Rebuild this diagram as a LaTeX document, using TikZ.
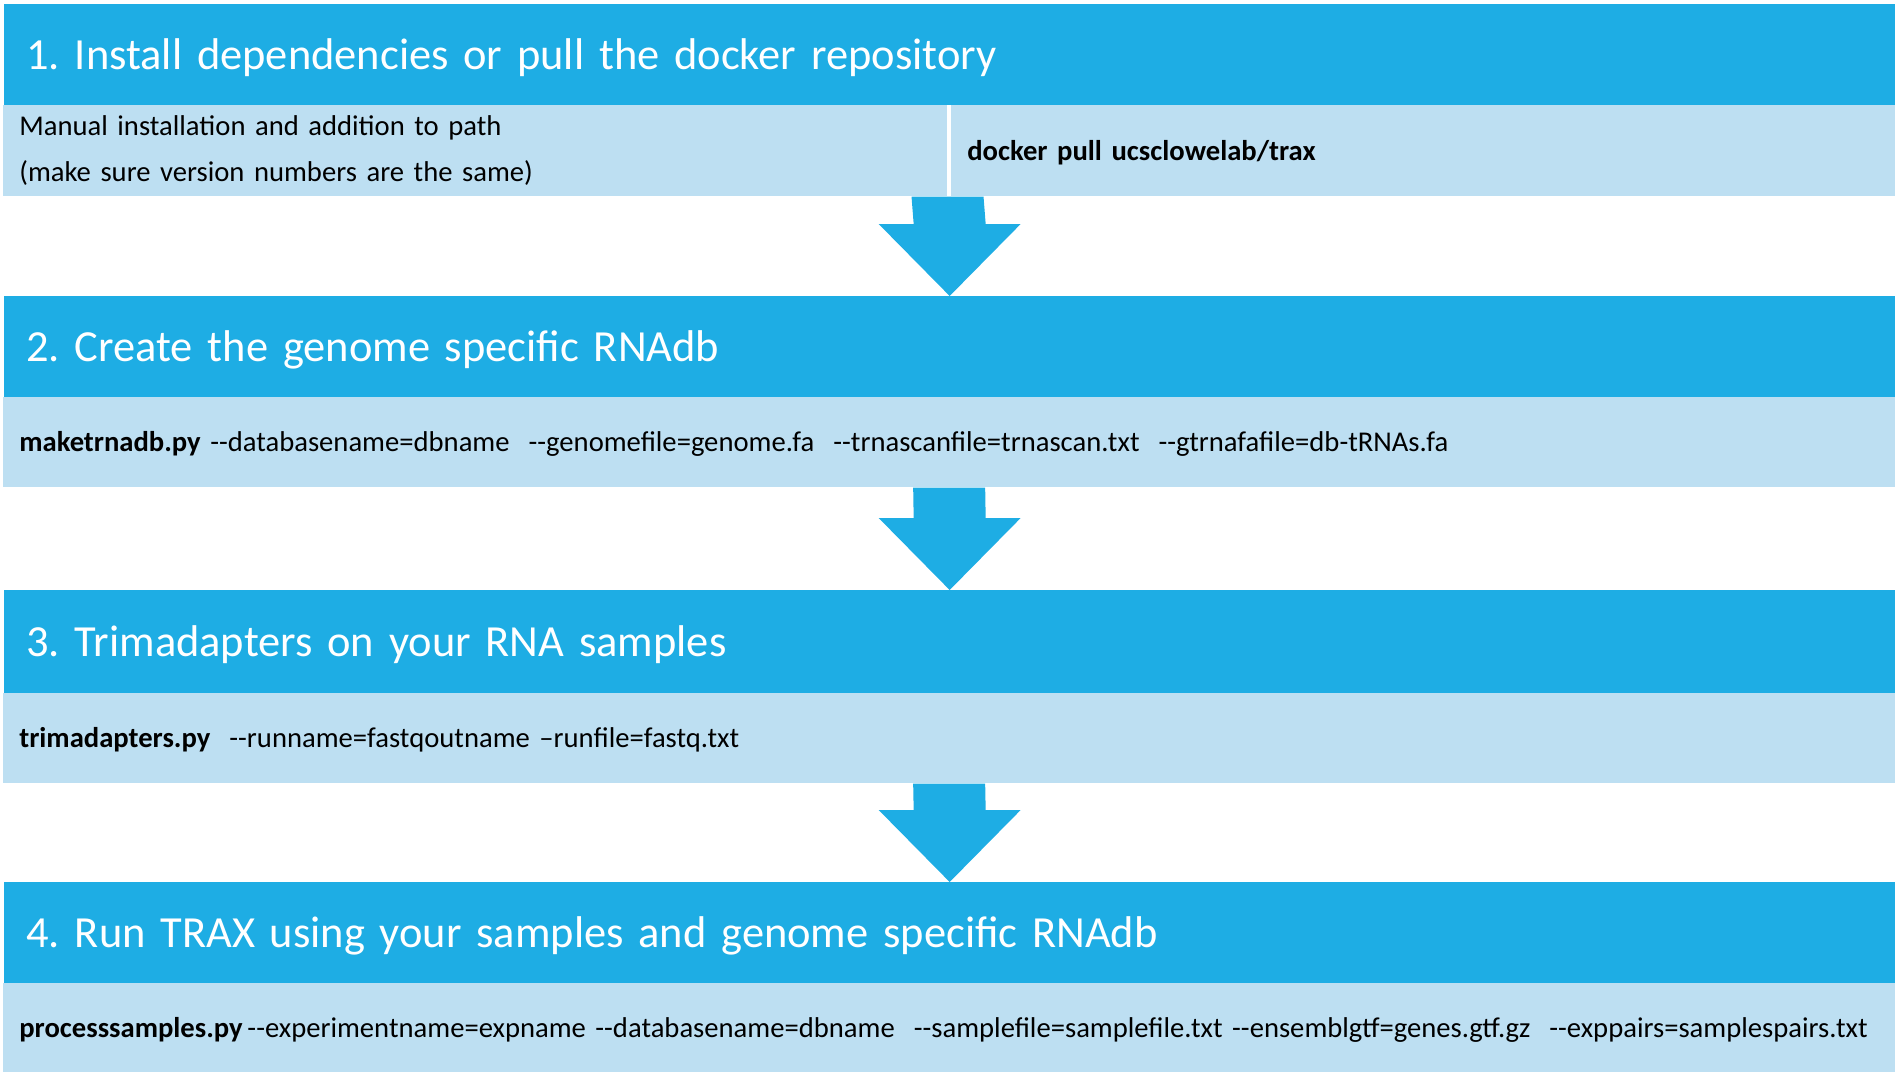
\documentclass[tikz,border=0pt]{standalone}
\usepackage{fontspec}
\setmainfont{Carlito}[Ligatures=TeXOff, WordSpace=0.65]
\frenchspacing
\usepackage{tikz}
\usetikzlibrary{calc, positioning}
\definecolor{headblue}{RGB}{30,173,228}
\definecolor{rowblue}{RGB}{189,223,242}
\tikzset{
  stephead/.style={fill=headblue, text=white, anchor=north west, align=left,
                   inner ysep=0pt, inner xsep=0.44cm, text width=36.94cm,
                   minimum height=2.02cm, text height=0.57cm, text depth=0pt,
                   font=\fontsize{25.3}{31}\selectfont},
  cmdrow/.style={fill=rowblue, anchor=north west, align=left,
                 inner ysep=0pt, inner xsep=0.32cm, text width=37.2cm,
                 minimum height=1.8cm, text height=0.37cm, text depth=0pt,
                 font=\fontsize{16.3}{26.2}\selectfont},
  halfrow/.style={cmdrow, text width=18.24cm},
  flowarrow/.style={fill=headblue}
}
% block arrow from the bottom of one row to the top of the next heading
\newcommand{\flowdown}[2]{%
  \fill[flowarrow] ($(#1)+(-36,0)$) -- ($(#1)+(36,0)$) -- ($(#2)+(36,-72)$)
    -- ($(#2)+(71,-72)$) -- (#2) -- ($(#2)+(-71,-72)$) -- ($(#2)+(-36,-72)$) -- cycle;}

\begin{document}
\begin{tikzpicture}[x=0.02cm, y=-0.02cm]
\useasboundingbox (0,0) rectangle (1895,1072);

% Step 1
\node[stephead] (head1) at (4,4) {1. Install dependencies or pull the docker repository};
\node[halfrow, minimum height=1.82cm, text height=0.32cm, text depth=0.92cm] (manual) at (3,105)
  {Manual installation and addition to path\\(make sure version numbers are the same)};
\node[halfrow, minimum height=1.82cm] (docker) at (951,105) {\textbf{docker pull ucsclowelab/trax}};

% Step 2
\node[stephead] (head2) at (4,296) {2. Create the genome specific RNAdb};
\node[cmdrow] (cmd2) at (3,397)
  {\textbf{maketrnadb.py} --databasename=dbname\ \ --genomefile=genome.fa\ \ --trnascanfile=trnascan.txt\ \ --gtrnafafile=db-tRNAs.fa};

% Step 3
\node[stephead, minimum height=2.06cm] (head3) at (4,590) {3. Trimadapters on your RNA samples};
\node[cmdrow] (cmd3) at (3,693)
  {\textbf{trimadapters.py}\ \ --runname=fastqoutname –runfile=fastq.txt};

% Step 4
\node[stephead] (head4) at (4,882) {4. Run TRAX using your samples and genome specific RNAdb};
\node[cmdrow, minimum height=1.78cm] (cmd4) at (3,983)
  {\mbox{\textbf{processsamples.py}\,--experimentname=expname --databasename=dbname\ \ --samplefile=samplefile.txt --ensemblgtf=genes.gtf.gz\ \ --exppairs=samplespairs.txt}};

% Arrows
\flowdown{manual.south east}{head2.north}
\flowdown{cmd2.south}{head3.north}
\flowdown{cmd3.south}{head4.north}

\end{tikzpicture}
\end{document}
